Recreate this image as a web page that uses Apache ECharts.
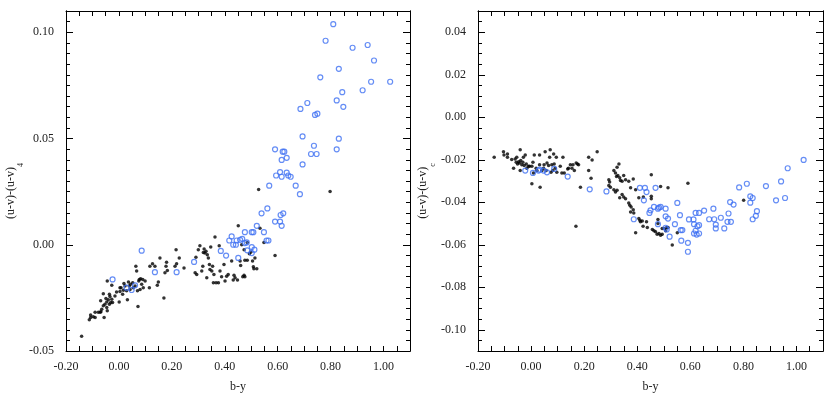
<!DOCTYPE html>
<html>
<head>
<meta charset="utf-8">
<script src="https://cdn.jsdelivr.net/npm/echarts@6/dist/echarts.min.js"></script>
<style>
  html, body { margin: 0; padding: 0; background: #fff; }
  #chart { width: 831px; height: 398px; }
</style>
</head>
<body>
<div id="chart"></div>
<script>
// label positions
const xLabelValues = [-0.2, 0, 0.2, 0.4, 0.6, 0.8, 1.0];
const leftYLabelValues = [-0.05, 0, 0.05, 0.10];
const rightYLabelValues = [-0.10, -0.08, -0.06, -0.04, -0.02, 0, 0.02, 0.04];

// left panel: (u-v)-(u-v)_4 vs b-y
const leftBlack = [
  [-0.141,-0.0430],[-0.112,-0.0353],[-0.107,-0.0331],[-0.107,-0.0342],[-0.097,-0.0339],[-0.090,-0.0318],
  [-0.090,-0.0342],[-0.078,-0.0318],[-0.071,-0.0318],[-0.068,-0.0315],[-0.065,-0.0303],[-0.069,-0.0264],
  [-0.059,-0.0230],[-0.059,-0.0287],[-0.056,-0.0342],[-0.053,-0.0280],[-0.049,-0.0253],[-0.046,-0.0269],
  [-0.046,-0.0295],[-0.044,-0.0311],[-0.040,-0.0259],[-0.036,-0.0233],[-0.036,-0.0280],[-0.034,-0.0244],
  [-0.031,-0.0272],[-0.027,-0.0191],[-0.027,-0.0256],[-0.024,-0.0272],[-0.044,-0.0171],[-0.015,-0.0241],
  [-0.009,-0.0222],[0.001,-0.0269],[0.004,-0.0202],[0.004,-0.0220],[0.008,-0.0202],[0.014,-0.0233],
  [0.017,-0.0214],[0.019,-0.0182],[0.023,-0.0194],[0.029,-0.0217],[0.032,-0.0259],[0.036,-0.0175],
  [0.039,-0.0194],[0.042,-0.0210],[0.044,-0.0186],[0.052,-0.0179],[0.054,-0.0202],[0.061,-0.0194],
  [0.064,-0.0101],[0.067,-0.0124],[0.070,-0.0217],[0.072,-0.0290],[0.075,-0.0171],[0.077,-0.0163],
  [0.080,-0.0210],[0.082,-0.0160],[0.086,-0.0186],[0.090,-0.0163],[0.092,-0.0202],[0.099,-0.0171],
  [0.115,-0.0202],[0.117,-0.0101],[0.127,-0.0089],[0.136,-0.0101],[0.145,-0.0191],[0.149,-0.0175],
  [0.155,-0.0062],[0.170,-0.0251],[0.174,-0.0132],[0.178,-0.0101],[0.180,-0.0082],[0.183,-0.0121],
  [0.212,-0.0101],[0.216,-0.0023],[0.218,-0.0089],[0.228,-0.0062],[0.246,-0.0109],[0.288,-0.0132],
  [0.291,-0.0059],[0.294,-0.0140],[0.300,-0.0023],[0.306,-0.0005],[0.313,-0.0124],[0.317,-0.0101],
  [0.319,-0.0036],[0.322,-0.0020],[0.325,-0.0039],[0.329,-0.0031],[0.332,-0.0155],[0.334,-0.0047],
  [0.338,-0.0062],[0.342,-0.0093],[0.344,-0.0116],[0.347,-0.0011],[0.351,-0.0124],[0.354,-0.0101],
  [0.357,-0.0179],[0.359,-0.0140],[0.363,0.0036],[0.367,-0.0179],[0.376,-0.0179],[0.379,-0.0005],
  [0.382,-0.0124],[0.388,-0.0151],[0.397,-0.0093],[0.401,-0.0171],[0.407,-0.0148],[0.413,-0.0140],
  [0.451,0.0089],[0.533,0.0078],[0.464,0.0000],[0.485,0.0011],[0.548,0.0011],[0.473,-0.0023],
  [0.493,-0.0042],[0.498,-0.0035],[0.514,-0.0062],[0.505,-0.0077],[0.426,-0.0077],[0.458,-0.0077],
  [0.460,-0.0098],[0.476,-0.0073],[0.485,-0.0073],[0.508,-0.0104],[0.510,-0.0113],[0.521,-0.0113],
  [0.590,-0.0051],[0.432,-0.0166],[0.435,-0.0144],[0.439,-0.0155],[0.448,-0.0166],[0.468,-0.0150],
  [0.473,-0.0144],[0.476,-0.0150],[0.528,0.0260],[0.798,0.0251]
];
const leftBlue = [
  [-0.024,-0.0163],[0.029,-0.0202],[0.048,-0.0213],[0.061,-0.0191],[0.086,-0.0028],[0.136,-0.0129],
  [0.218,-0.0129],[0.284,-0.0081],[0.385,-0.0029],[0.405,-0.0051],[0.417,0.0020],
  [0.684,0.0238],[0.561,0.0171],[0.539,0.0148],[0.521,0.0089],[0.621,0.0148],[0.611,0.0140],
  [0.590,0.0109],[0.609,0.0109],[0.615,0.0089],[0.476,0.0059],[0.502,0.0059],[0.508,0.0059],
  [0.548,0.0059],[0.426,0.0039],[0.445,0.0020],[0.458,0.0023],[0.466,0.0028],[0.432,0.0000],
  [0.442,0.0000],[0.476,0.0008],[0.483,0.0011],[0.558,0.0020],[0.565,0.0020],[0.502,-0.0011],
  [0.512,-0.0023],[0.485,-0.0026],[0.502,-0.0039],[0.451,-0.0062],
  [0.810,0.1038],[0.781,0.0960],[0.883,0.0927],[0.940,0.0940],[0.964,0.0867],[0.831,0.0828],
  [0.761,0.0788],[0.953,0.0767],[1.025,0.0767],[0.921,0.0727],[0.844,0.0718],[0.712,0.0667],
  [0.823,0.0679],[0.686,0.0639],[0.848,0.0649],[0.741,0.0611],[0.750,0.0617],[0.694,0.0510],
  [0.831,0.0499],[0.737,0.0466],[0.625,0.0438],[0.619,0.0438],[0.726,0.0427],[0.747,0.0427],
  [0.823,0.0449],[0.634,0.0409],[0.615,0.0399],[0.694,0.0378],[0.609,0.0342],[0.634,0.0339],
  [0.640,0.0326],[0.649,0.0320],[0.615,0.0320],[0.668,0.0278],[0.590,0.0449],[0.594,0.0326],
  [0.568,0.0278]
];

// right panel: (u-v)-(u-v)_c vs b-y
const rightBlack = [
  [-0.139,-0.0188],[-0.104,-0.0162],[-0.102,-0.0178],[-0.089,-0.0173],[-0.089,-0.0188],[-0.073,-0.0199],
  [-0.066,-0.0240],[-0.060,-0.0196],[-0.056,-0.0212],[-0.054,-0.0188],[-0.051,-0.0220],[-0.047,-0.0209],
  [-0.044,-0.0215],[-0.041,-0.0153],[-0.041,-0.0251],[-0.039,-0.0204],[-0.035,-0.0224],[-0.031,-0.0212],
  [-0.029,-0.0188],[-0.026,-0.0227],[-0.022,-0.0178],[-0.018,-0.0220],[-0.016,-0.0240],[-0.010,-0.0231],
  [-0.006,-0.0231],[0.003,-0.0231],[0.003,-0.0313],[0.007,-0.0212],[0.009,-0.0262],[0.012,-0.0178],
  [0.019,-0.0240],[0.022,-0.0251],[0.032,-0.0178],[0.032,-0.0224],[0.034,-0.0329],[0.041,-0.0251],
  [0.047,-0.0240],[0.049,-0.0224],[0.053,-0.0162],[0.057,-0.0251],[0.060,-0.0215],[0.066,-0.0227],
  [0.070,-0.0188],[0.072,-0.0153],[0.075,-0.0259],[0.078,-0.0224],[0.082,-0.0251],[0.085,-0.0173],
  [0.087,-0.0220],[0.091,-0.0240],[0.095,-0.0188],[0.097,-0.0259],[0.110,-0.0231],[0.116,-0.0262],
  [0.120,-0.0188],[0.125,-0.0262],[0.138,-0.0243],[0.141,-0.0240],[0.148,-0.0224],[0.154,-0.0240],
  [0.158,-0.0224],[0.163,-0.0251],[0.170,-0.0215],[0.175,-0.0220],[0.179,-0.0224],[0.186,-0.0329],
  [0.217,-0.0188],[0.217,-0.0251],[0.226,-0.0287],[0.230,-0.0201],[0.249,-0.0162],[0.169,-0.0513],
  [0.312,-0.0251],[0.324,-0.0235],[0.331,-0.0220],[0.318,-0.0262],
  [0.293,-0.0294],[0.293,-0.0321],[0.296,-0.0305],[0.299,-0.0329],[0.322,-0.0279],[0.327,-0.0274],
  [0.334,-0.0285],[0.337,-0.0298],[0.343,-0.0301],[0.349,-0.0274],[0.356,-0.0294],[0.368,-0.0301],
  [0.385,-0.0290],[0.453,-0.0271],[0.488,-0.0326],[0.516,-0.0332],[0.591,-0.0310],[0.312,-0.0341],
  [0.318,-0.0352],[0.324,-0.0344],[0.343,-0.0363],[0.349,-0.0375],[0.356,-0.0383],[0.334,-0.0379],
  [0.375,-0.0332],[0.394,-0.0341],[0.406,-0.0379],[0.423,-0.0375],[0.453,-0.0372],[0.453,-0.0383],
  [0.368,-0.0403],[0.372,-0.0414],[0.377,-0.0422],[0.385,-0.0435],[0.387,-0.0450],[0.375,-0.0446],
  [0.406,-0.0477],[0.410,-0.0485],[0.412,-0.0492],[0.419,-0.0488],[0.435,-0.0492],[0.422,-0.0513],
  [0.438,-0.0519],[0.457,-0.0528],[0.463,-0.0534],[0.469,-0.0539],[0.475,-0.0550],[0.482,-0.0547],
  [0.488,-0.0555],[0.494,-0.0550],[0.503,-0.0523],[0.511,-0.0519],[0.507,-0.0534],[0.494,-0.0523],
  [0.478,-0.0481],[0.478,-0.0500],[0.532,-0.0601],[0.551,-0.0544],[0.394,-0.0544],[0.516,-0.0519],
  [0.801,-0.0391]
];
const rightBlue = [
  [-0.022,-0.0251],[0.007,-0.0262],[0.028,-0.0251],[0.032,-0.0246],[0.047,-0.0251],[0.060,-0.0259],
  [0.087,-0.0243],[0.138,-0.0279],[0.221,-0.0339],[0.284,-0.0349],
  [0.410,-0.0332],[0.429,-0.0332],[0.435,-0.0352],[0.469,-0.0332],[0.425,-0.0391],[0.551,-0.0403],
  [0.463,-0.0422],[0.450,-0.0438],[0.446,-0.0450],[0.482,-0.0425],[0.488,-0.0422],[0.478,-0.0430],
  [0.507,-0.0430],[0.387,-0.0480],[0.507,-0.0466],[0.516,-0.0477],[0.561,-0.0461],[0.595,-0.0481],
  [0.612,-0.0481],[0.620,-0.0450],[0.633,-0.0450],[0.478,-0.0503],[0.507,-0.0520],[0.511,-0.0528],
  [0.542,-0.0503],[0.614,-0.0503],[0.627,-0.0513],[0.633,-0.0508],[0.564,-0.0531],[0.570,-0.0531],
  [0.620,-0.0534],[0.614,-0.0547],[0.624,-0.0552],[0.633,-0.0547],[0.522,-0.0562],[0.566,-0.0581],
  [0.591,-0.0591],[0.591,-0.0633],
  [1.027,-0.0201],[0.967,-0.0240],[0.942,-0.0302],[0.813,-0.0313],[0.784,-0.0330],[0.885,-0.0324],
  [0.826,-0.0372],[0.835,-0.0380],[0.750,-0.0399],[0.763,-0.0411],[0.923,-0.0391],[0.957,-0.0380],
  [0.826,-0.0402],[0.687,-0.0430],[0.652,-0.0439],[0.851,-0.0442],[0.847,-0.0464],[0.744,-0.0453],
  [0.715,-0.0473],[0.690,-0.0480],[0.671,-0.0480],[0.835,-0.0480],[0.740,-0.0492],[0.753,-0.0492],
  [0.696,-0.0505],[0.696,-0.0523],[0.728,-0.0523]
];

const FONT = 'Liberation Serif';
const TXT = '#222';
const BLUE = '#3f70f2';
const fmt = v => (Math.abs(v) < 1e-9 ? 0 : v).toFixed(2);

const line = { onZero: false, lineStyle: { color: '#000', width: 1 } };

function xAxesFor(grid) {
  const base = {
    type: 'value', gridIndex: grid, min: -0.2, max: 1.1, interval: 0.05,
    splitLine: { show: false }, axisLine: line,
    axisTick: { inside: true, length: 5, lineStyle: { color: '#000' } }
  };
  return [
    { ...base, position: 'bottom', name: 'b-y', nameLocation: 'middle', nameGap: 30,
      nameTextStyle: { fontFamily: FONT, fontSize: 12, color: TXT },
      axisLabel: { customValues: xLabelValues, margin: 10, fontFamily: FONT, fontSize: 12, color: TXT, formatter: fmt } },
    { ...base, position: 'top', axisLabel: { show: false } }
  ];
}

function yAxesFor(grid, min, max, labels, sub, gap) {
  const base = { type: 'value', gridIndex: grid, min, max, splitLine: { show: false }, axisLine: line };
  const minor = { inside: true, length: 4, lineStyle: { color: '#000' } };
  const major = { inside: true, length: 7, customValues: labels, lineStyle: { color: '#000' } };
  return [
    { ...base, position: 'left', interval: 0.005, axisTick: minor, axisLabel: { show: false } },
    { ...base, position: 'left', axisTick: major,
      axisLabel: { customValues: labels, margin: 12, fontFamily: FONT, fontSize: 12, color: TXT, formatter: fmt },
      name: '(u-v)-(u-v){s|' + sub + '}', nameLocation: 'middle', nameGap: gap,
      nameTextStyle: { fontFamily: FONT, fontSize: 12, color: TXT, padding: [0, 20, 0, 0],
        rich: { s: { fontFamily: FONT, fontSize: 8, color: TXT, padding: [20, 0, 0, 0] } } } },
    { ...base, position: 'right', interval: 0.005, axisTick: minor, axisLabel: { show: false } },
    { ...base, position: 'right', axisTick: major, axisLabel: { show: false } }
  ];
}

const chart = echarts.init(document.getElementById('chart'));
chart.setOption({
  animation: false,
  backgroundColor: '#fff',
  grid: [
    { left: 66, top: 11, width: 344, height: 343 },
    { left: 478, top: 11, width: 345, height: 343 }
  ],
  xAxis: [...xAxesFor(0), ...xAxesFor(1)],
  yAxis: [
    ...yAxesFor(0, -0.05, 0.11, leftYLabelValues, '4', 33),
    ...yAxesFor(1, -0.11, 0.05, rightYLabelValues, 'c', 34)
  ],
  series: [
    { type: 'scatter', xAxisIndex: 0, yAxisIndex: 0, data: leftBlack, symbolSize: 3.5, itemStyle: { color: '#000' } },
    { type: 'scatter', xAxisIndex: 0, yAxisIndex: 0, data: leftBlue, symbolSize: 5,
      itemStyle: { color: 'rgba(0,0,0,0)', borderColor: BLUE, borderWidth: 1.2 } },
    { type: 'scatter', xAxisIndex: 2, yAxisIndex: 4, data: rightBlack, symbolSize: 3.5, itemStyle: { color: '#000' } },
    { type: 'scatter', xAxisIndex: 2, yAxisIndex: 4, data: rightBlue, symbolSize: 5,
      itemStyle: { color: 'rgba(0,0,0,0)', borderColor: BLUE, borderWidth: 1.2 } }
  ]
});
</script>
</body>
</html>
